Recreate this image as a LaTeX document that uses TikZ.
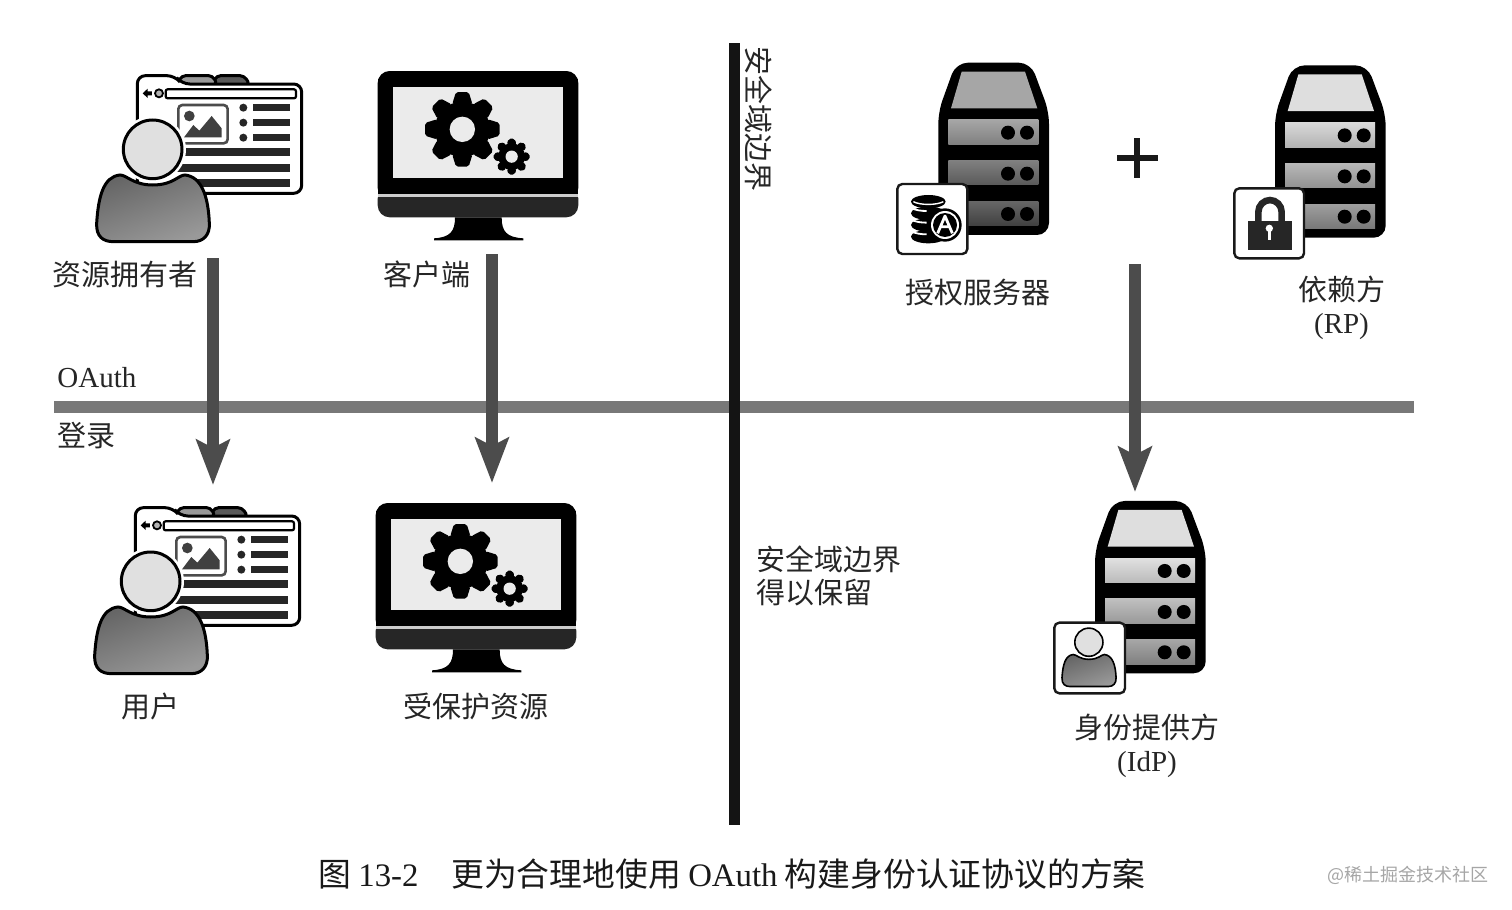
\documentclass[tikz,border=0pt]{standalone}
\usepackage{fontspec}
\setmainfont{Liberation Serif}
\newfontfamily\cjk{Noto Sans CJK SC}
\usetikzlibrary{arrows.meta}
\tikzset{
  lab/.style={font=\cjk\fontsize{14.5}{16.5}\selectfont,text=black!85,inner sep=0pt,align=center},
  flow/.style={line width=5.8pt,draw=black!70,-{Stealth[width=16.5pt,length=22.5pt,inset=4pt]}},
  badge/.style={fill=white,draw=black!90,line width=1.2pt,rounded corners=2.5pt}
}
% all icon parts below are written on a 3x grid
\newcommand\Person[1][1.5pt]{
\fill[white] (218,268) circle (100);
\draw[line width=#1,draw=black,left color=black!60,right color=black!40,shading angle=20]
  (120,345) .. controls (70,350) and (55,410) .. (50,490)
  .. controls (48,530) and (70,545) .. (100,545) -- (340,545)
  .. controls (370,545) and (390,525) .. (388,490)
  .. controls (385,410) and (365,350) .. (315,345)
  .. controls (295,345) and (280,375) .. (218,375)
  .. controls (160,375) and (140,345) .. (120,345) -- cycle;
\draw[line width=#1,fill=black!12] (218,268) circle (88);
}
\newcommand\Page[1]{
\begin{scope}[shift={#1},scale=1/3]
\draw[line width=1.5pt,fill=black!65,rounded corners=2pt] (396,74) -- (410,47) -- (492,47) -- (510,74) -- cycle;
\draw[line width=1.5pt,fill=black!40,rounded corners=2pt] (290,74) -- (305,47) -- (398,47) -- (412,74) -- cycle;
\draw[line width=1.5pt,fill=white,rounded corners=4pt]
  (172,400) -- (172,47) -- (285,47) -- (305,72) -- (665,72) -- (665,400) -- cycle;
\draw[line width=1.1pt,fill=white,rounded corners=1pt] (257,88) rectangle (648,115);
\fill[black] (188,100) -- (203,86) -- (203,94) -- (216,94) -- (216,106) -- (203,106) -- (203,114) -- cycle;
\draw[line width=.9pt,fill=black!30] (237,100) circle (12);
\draw[line width=1.3pt,draw=black!70,fill=white,rounded corners=2pt] (295,135) rectangle (443,250);
\fill[black!75] (328,168) circle (16);
\fill[black!75] (312,232) -- (340,195) -- (358,212) -- (395,168) -- (425,205) -- (425,232) -- cycle;
\foreach \y in {143,188,233} {
  \fill[black!85] (490,\y) circle (12);
  \fill[black!85] (518,\y-11) rectangle (630,\y+10);
}
\foreach \y in {265,312,357}
  \fill[black!85] (290,\y) rectangle (630,\y+23);
\Person
\end{scope}
}
\newcommand\Gear[3]{
\fill[black] (#1,#2) circle ({.74*#3});
\foreach \a in {0,45,...,315}
  \fill[black,shift={(#1,#2)},rotate=\a,rounded corners=1pt]
    ({.68*#3},{-.27*#3}) -- ({#3},{-.17*#3}) -- ({#3},{.17*#3}) -- ({.68*#3},{.27*#3}) -- cycle;
\fill[black!8] (#1,#2) circle ({.34*#3});
}
\newcommand\Monitor[1]{
\begin{scope}[shift={#1},scale=1/3]
\fill[black,rounded corners=6pt] (53,33) -- (655,33) -- (655,420) -- (53,420) -- cycle;
\fill[black!85,rounded corners=6pt] (53,380) -- (655,380) -- (655,472) -- (53,472) -- cycle;
\fill[black] (53,58) rectangle (655,403);
\fill[black!20] (53,403) rectangle (655,410);
\fill[black!8] (100,80) rectangle (608,355);
\Gear{307}{208}{112}
\Gear{455}{290}{54}
\fill[black] (285,472) -- (425,472) .. controls (425,515) and (440,532) .. (490,535)
  -- (490,541) -- (222,541) -- (222,535) .. controls (270,532) and (285,515) .. (285,472) -- cycle;
\end{scope}
}
% #1 place, #2 cap, then the three panels from top to bottom
\tikzset{panel/.style={top color=black!#1,bottom color=black!\the\numexpr#1+15\relax}}
\newcommand\Server[5]{
\begin{scope}[shift={#1},scale=1/3]
\fill[black,rounded corners=6pt]
  (175,555) -- (175,185) -- (228,38) -- (452,38) -- (507,185) -- (507,555) -- cycle;
\fill[#2] (245,65) -- (435,65) -- (472,175) -- (213,175) -- cycle;
\fill[panel=#3] (205,210) rectangle (475,283);
\fill[panel=#4] (205,332) rectangle (475,405);
\fill[panel=#5] (205,455) rectangle (475,528);
\foreach \y in {248,371,492} {
  \fill[black] (384,\y) circle (21);
  \fill[black] (441,\y) circle (21);
}
\end{scope}
}
\begin{document}
\begin{tikzpicture}[x=0.5pt,y=-0.5pt]
\useasboundingbox (0,0) rectangle (1512,910);
\fill[white] (0,0) rectangle (1512,910);

\draw[line width=6pt,black!53] (54,407) -- (1414,407);
\draw[line width=5.5pt,black!92] (734,43) -- (734,825);

\Page{(80,60)}
\Monitor{(360,60)}
\Page{(78,492)}
\Monitor{(358,492)}

\Server{(880,50)}{black!35}{35}{50}{60}
\begin{scope}[shift={(880,50)},scale=1/3]
\draw[badge] (52,402) rectangle (262,612);
\foreach \y in {560,525,490,455}
  \fill[black] (145,\y) ellipse (52 and 20);
\foreach \y in {473,508,543}
  \draw[white,line width=.9pt] (92,\y) .. controls (105,\y+8) and (125,\y+10) .. (140,\y+10);
\draw[white,line width=.7pt] (100,455) .. controls (120,466) and (170,466) .. (190,455);
\fill[black] (195,525) circle (50);
\fill[white] (195,525) circle (42);
\fill[black] (195,525) circle (36);
\draw[white,line width=1.4pt,line join=round] (173,550) -- (195,498) -- (217,550) (182,530) -- (208,530);
\end{scope}

\Server{(1216.7,52.7)}{black!13}{15}{28}{38}
\begin{scope}[shift={(1220,50)},scale=1/3]
\draw[badge] (43,415) rectangle (252,625);
\draw[black!85,line width=3.3pt,rounded corners=6pt] (115,520) -- (115,450) -- (185,450) -- (185,520);
\fill[black!85] (85,512) rectangle (215,600);
\fill[white] (148,535) circle (11);
\fill[white] (143,540) rectangle (153,570);
\end{scope}

\Server{(1036.7,488.3)}{black!13}{12}{25}{35}
\begin{scope}[shift={(1040,490)},scale=1/3]
\draw[badge] (43,398) rectangle (255,610);
\begin{scope}[shift={(42,328)},scale=.48]
\Person[.8pt]
\end{scope}
\end{scope}

\draw[line width=3pt,black!90] (1117,158) -- (1158,158) (1137,138) -- (1137,178);

\node[lab] (owner) at (125,275) {资源拥有者};
\node[lab] (client) at (426.5,274) {客户端};
\node[lab] (authsrv) at (977.5,293) {授权服务器};
\node[lab] (rp) at (1341.5,307.5) {依赖方\\{\rmfamily (RP)}};
\node[lab,anchor=west] (oauth) at (57,378) {\rmfamily OAuth};
\node[lab,anchor=west] (login) at (57,436) {登录};
\node[lab] (user) at (150,706) {用户};
\node[lab] (resource) at (475.5,706) {受保护资源};
\node[lab,anchor=west,align=left] (kept) at (756,576) {安全域边界\\得以保留};
\node[lab] (idp) at (1147,745.5) {身份提供方\\{\rmfamily (IdP)}};
\node[lab,rotate=-90] (boundary) at (759,119) {安全域边界};

\coordinate (ownerout) at (213,258);
\coordinate (userin) at (213,485);
\coordinate (clientout) at (492,254);
\coordinate (resourcein) at (492,483);
\coordinate (rpout) at (1135,264);
\coordinate (idpin) at (1135,492);
\draw[flow] (ownerout) -- (userin);
\draw[flow] (clientout) -- (resourcein);
\draw[flow] (rpout) -- (idpin);

\node[inner sep=0pt,text=black!90,font=\cjk\fontsize{16.4}{20}\selectfont] (caption) at (732,874)
  {图 {\rmfamily 13-2}\hspace{1em}更为合理地使用 {\rmfamily OAuth} 构建身份认证协议的方案};
\node[inner sep=0pt,text=black!35,font=\cjk\fontsize{9}{11}\selectfont] (mark) at (1408,875) {@稀土掘金技术社区};
\end{tikzpicture}
\end{document}
